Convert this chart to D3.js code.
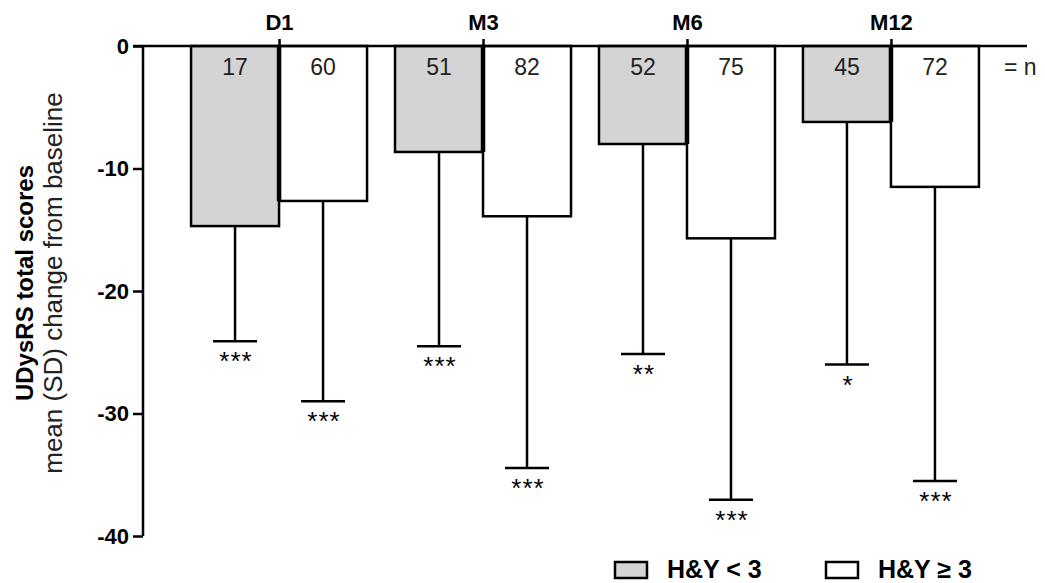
<!DOCTYPE html>
<html>
<head>
<meta charset="utf-8">
<script src="https://cdn.jsdelivr.net/npm/d3@7"></script>
<style>
  body { margin: 0; background: #fff; }
  svg text { font-family: Arial, "Liberation Sans", sans-serif; }
</style>
</head>
<body>
<div id="chart"></div>
<script>
// data
var visits = ['D1', 'M3', 'M6', 'M12'];
var groups = ['H&Y < 3', 'H&Y \u2265 3'];
var meanLow = [-14.7, -8.65, -8.0, -6.2];
var meanHigh = [-12.65, -13.9, -15.7, -11.5];
var sdLow = [9.4, 15.85, 17.15, 19.8];
var sdHigh = [16.35, 20.55, 21.35, 24.0];
var nLow = [17, 51, 52, 45];
var nHigh = [60, 82, 75, 72];
var starsLow = ['***', '***', '**', '*'];
var starsHigh = ['***', '***', '***', '***'];
var yTicks = [0, -10, -20, -30, -40];

var width = 1045, height = 583;
var mLeft = 143, mRight = 1027, mTop = 46, mBottom = 536;
var fills = ['#d4d4d4', '#ffffff'];
var FONT = 'Arial, "Liberation Sans", sans-serif';

var svg = d3.select('#chart').append('svg')
  .attr('width', width)
  .attr('height', height);

var x = d3.scalePoint().domain(visits).range([mLeft, mRight]).padding(0.667);
var y = d3.scaleLinear().domain([0, -40]).range([mTop, mBottom]);
var barW = 88;

var rows = [];
visits.forEach(function(v, i) {
  rows.push({ visit: v, g: 0, mean: meanLow[i], sd: sdLow[i], n: nLow[i], stars: starsLow[i] });
  rows.push({ visit: v, g: 1, mean: meanHigh[i], sd: sdHigh[i], n: nHigh[i], stars: starsHigh[i] });
});
function bx(d) { return d.g === 0 ? x(d.visit) - barW : x(d.visit); }

// error bars (drawn first so bars cover them)
var err = svg.append('g').attr('stroke', '#000').attr('stroke-width', 2.5);
err.selectAll('line.v').data(rows).enter().append('line')
  .attr('x1', function(d) { return bx(d) + barW / 2; })
  .attr('x2', function(d) { return bx(d) + barW / 2; })
  .attr('y1', function(d) { return y(d.mean); })
  .attr('y2', function(d) { return y(d.mean - d.sd); });
err.selectAll('line.c').data(rows).enter().append('line')
  .attr('x1', function(d) { return bx(d) + barW / 2 - 22; })
  .attr('x2', function(d) { return bx(d) + barW / 2 + 22; })
  .attr('y1', function(d) { return y(d.mean - d.sd); })
  .attr('y2', function(d) { return y(d.mean - d.sd); });

svg.append('g').selectAll('text').data(rows).enter().append('text')
  .attr('x', function(d) { return bx(d) + barW / 2 + 1; })
  .attr('y', function(d) { return y(d.mean - d.sd) + 29; })
  .attr('text-anchor', 'middle')
  .attr('font-size', 26)
  .attr('letter-spacing', 1)
  .text(function(d) { return d.stars; });

// bars
svg.append('g').selectAll('rect').data(rows).enter().append('rect')
  .attr('x', bx)
  .attr('y', y(0))
  .attr('width', barW)
  .attr('height', function(d) { return y(d.mean) - y(0); })
  .attr('fill', function(d) { return fills[d.g]; })
  .attr('stroke', '#000')
  .attr('stroke-width', 2.5);

// n labels
svg.append('g').selectAll('text').data(rows).enter().append('text')
  .attr('x', function(d) { return bx(d) + barW / 2; })
  .attr('y', 75)
  .attr('text-anchor', 'middle')
  .attr('font-size', 23)
  .attr('fill', '#222')
  .text(function(d) { return d.n; });
svg.append('text')
  .attr('x', 1004).attr('y', 75)
  .attr('font-size', 23).attr('fill', '#222')
  .text('= n');

// y axis
var yAxis = svg.append('g')
  .attr('transform', 'translate(' + mLeft + ',0)')
  .call(d3.axisLeft(y).tickValues(yTicks).tickSize(10).tickPadding(4)
    .tickFormat(function(d) { return String(d); }));
yAxis.select('.domain').attr('stroke-width', 2.5).attr('d', 'M0,' + mTop + 'V' + mBottom);
yAxis.selectAll('.tick line').attr('stroke-width', 2.5);
yAxis.selectAll('.tick text')
  .attr('font-size', 22).attr('font-weight', 'bold').attr('fill', '#000')
  .attr('font-family', FONT);

// top axis with visit labels
var xAxis = svg.append('g')
  .attr('transform', 'translate(0,' + mTop + ')')
  .call(d3.axisTop(x).tickSize(7).tickSizeOuter(0).tickPadding(9));
xAxis.select('.domain').attr('stroke-width', 2.5).attr('d', 'M' + (mLeft - 10) + ',0H' + mRight);
xAxis.selectAll('.tick line').attr('stroke-width', 2.5);
xAxis.selectAll('.tick text')
  .attr('font-size', 22).attr('font-weight', 'bold').attr('fill', '#000')
  .attr('font-family', FONT);

// thick centre divider where the two bars of a visit meet
svg.append('g').selectAll('line').data(visits).enter().append('line')
  .attr('x1', function(d) { return x(d); })
  .attr('x2', function(d) { return x(d); })
  .attr('y1', y(0))
  .attr('y2', function(d, i) { return y(Math.max(meanLow[i], meanHigh[i])); })
  .attr('stroke', '#000')
  .attr('stroke-width', 4.5);

// y title
var yt = svg.append('g').attr('transform', 'translate(33,283) rotate(-90)');
yt.append('text').attr('text-anchor', 'middle').attr('font-size', 24).attr('font-weight', 'bold')
  .text('UDysRS total scores');
yt.append('text').attr('y', 29).attr('text-anchor', 'middle').attr('font-size', 26).attr('fill', '#222')
  .text('mean (SD) change from baseline');

// legend
var leg = svg.append('g').selectAll('g').data(groups).enter().append('g')
  .attr('transform', function(d, i) { return 'translate(' + (615 + i * 211) + ',562)'; });
leg.append('rect')
  .attr('width', 32).attr('height', 16)
  .attr('fill', function(d, i) { return fills[i]; })
  .attr('stroke', '#000').attr('stroke-width', 2.5);
leg.append('text')
  .attr('x', 52).attr('y', 16)
  .attr('font-size', 25).attr('font-weight', 'bold')
  .text(function(d) { return d; });
</script>
</body>
</html>
